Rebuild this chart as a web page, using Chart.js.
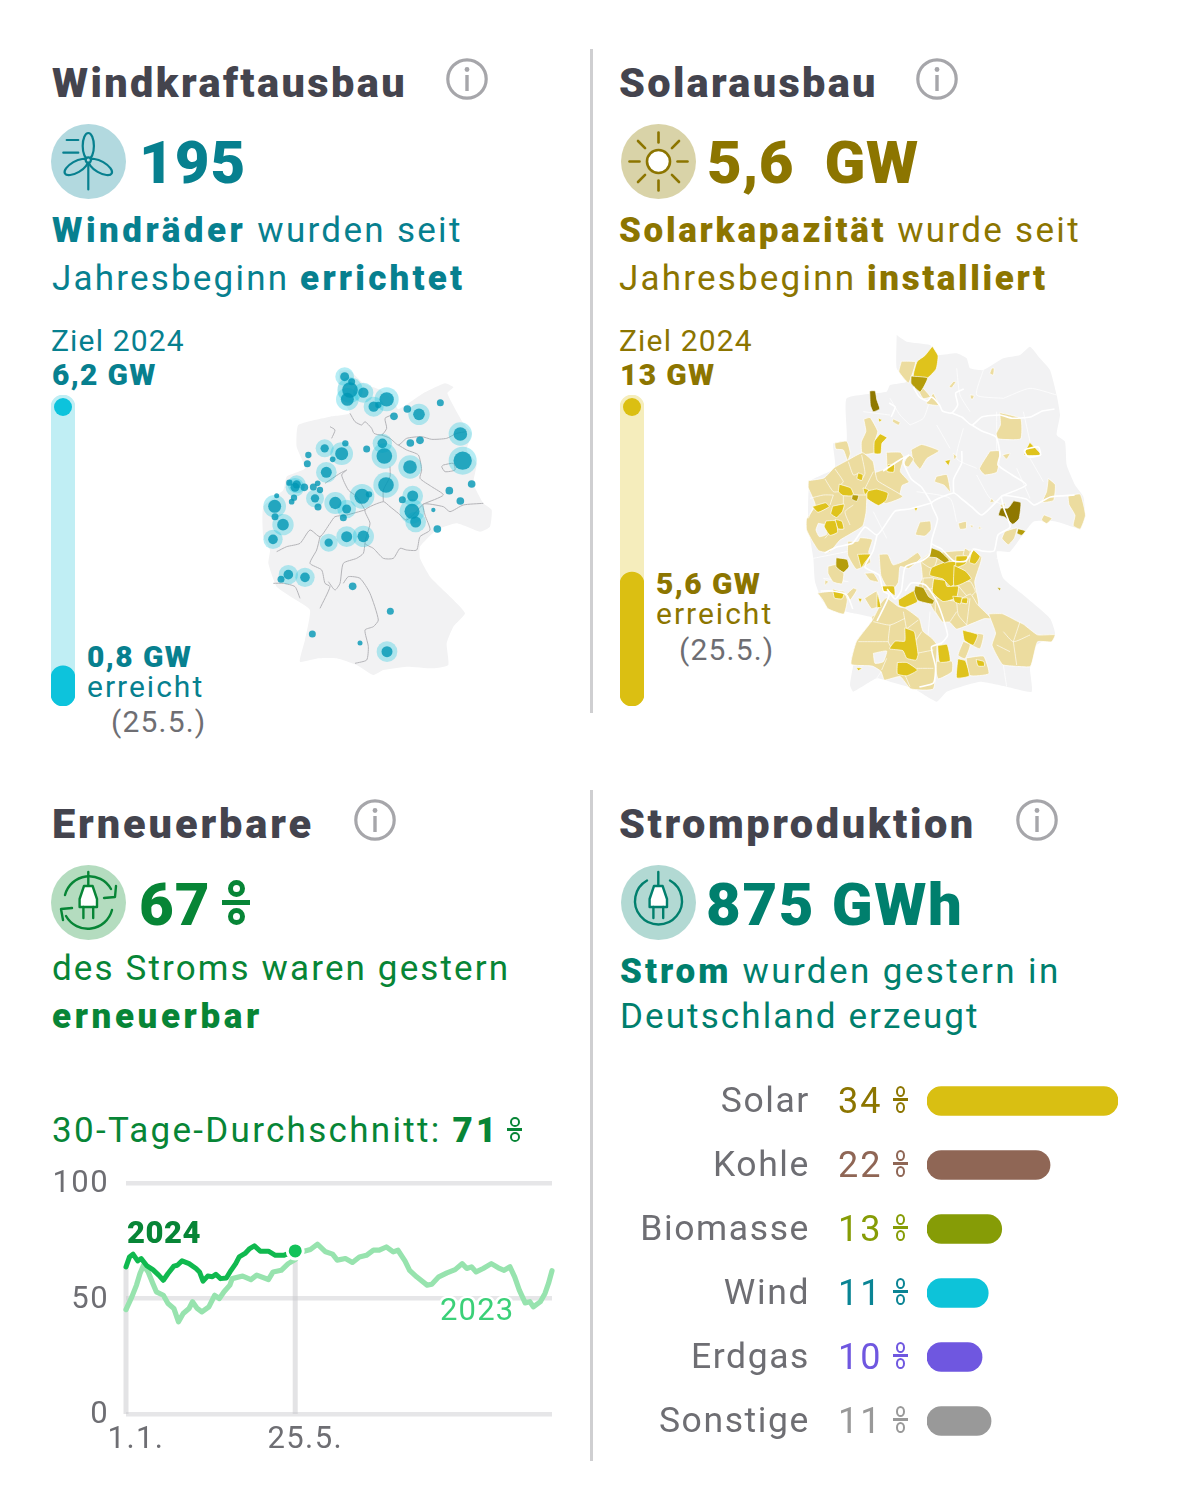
<!DOCTYPE html>
<html lang="de"><head><meta charset="utf-8"><title>Klimadashboard</title>
<script src="https://cdn.jsdelivr.net/npm/chart.js@4"></script>
<style>
html,body{margin:0;padding:0;background:#fff;width:1179px;height:1500px;overflow:hidden;font-family:Roboto,sans-serif}
.t{position:absolute;white-space:pre;line-height:1;z-index:5}
.t b{font-weight:900}
.s b{letter-spacing:var(--bs,3.2px)}
canvas{position:absolute;display:block}
.rule{position:absolute;width:3px;background:#cfcfd1}
.pct{position:absolute;color:transparent;overflow:hidden;font-size:8px;z-index:5}
.pct i{position:absolute;display:block;box-sizing:border-box}
svg{position:absolute}
</style></head><body>
<script>
/* ---------- values ---------- */
const windProgress = {target: 6.2, done: 0.8};
const solarProgress = {target: 13, done: 5.6};

const mixLabels  = ['Solar','Kohle','Biomasse','Wind','Erdgas','Sonstige'];
const mixValues  = [34, 21.9, 13.3, 10.9, 9.8, 11.4];
const mixShown   = ['34','22','13','11','10','11'];
const mixColors  = ['#d9bf12','#8f6655','#869c06','#0dc3d9','#6f57e0','#999999'];
const mixText    = ['#8c7500','#8f6655','#869c06','#0a8494','#6f57e0','#999999'];

const days2023 = [0,5,9,12,15,19,23,26,32,36,41,45,49,54,57,61,65,71,76,80,84,89,91,100,107,112,122,126,133,139,145,151,158,164,171,177,181,188,194,200,206,212,217,223,229,233,239,243,249,258,262,268,275,282,288,292,296,300,306,313,319,324,329,333,337,342,346,349,355,359,362,365];
const share2023 = [45.2,50.7,55.8,60.8,64.4,61.5,56.5,52.9,51.4,47.8,45.7,39.9,43.5,45.7,48.6,45.7,44.2,46.4,51.4,50,52.9,55.8,58.6,59.7,58.2,60.1,58.2,61.5,62.2,65.1,66.9,70.2,71.2,73.5,70.2,69.2,66.6,67.3,65.6,68,68.7,70.9,70.9,72.3,70.2,70.9,66.3,62.2,59.4,55.8,56.2,59.4,61.1,62.5,65.1,63,63.7,61.5,63,65.1,63.3,62.2,63.7,59.4,53.6,48.1,48.6,46.4,48.6,52.2,56.5,62];
const days2024 = [0,3,6,10,13,18,23,28,32,36,41,44,48,54,60,63,66,70,74,77,81,86,90,94,97,102,106,110,115,122,128,135,145];
const share2024 = [63.7,68,69.2,66.3,67.3,64.1,62.5,60.1,57.9,60.8,64,64.4,66.3,65.1,63,61.5,57.5,59.7,59.4,60.5,58.6,58.9,62.2,65.1,68,69.5,71.6,72.8,70.5,70.5,68.7,68.7,70.6];
const lineTickDays = [0,145];
const lineTickLabels = ['1.1.','25.5.'];
const shareTicks = [0,50,100];

/* wind map: grid units, [x,y] flat lists */
const windSiteX = [284,300,292,340,305,410,371,385,432,472,507,571,631,638,665,598,631,550,562,480,510,481,397,403,350,408,488,457,486,497,224,275,286,248,175,172,229,118,140,135,163,190,203,210,195,125,132,204,80,74,75,99,69,256,290,280,336,357,290,340,236,115,165,93,308,421,187,330,411];
const windSiteY = [80,120,148,128,95,148,170,165,199,177,193,158,252,332,402,422,453,480,537,351,271,279,280,318,297,405,438,449,484,516,295,311,280,328,315,341,367,398,403,412,412,411,400,420,445,455,443,471,437,469,500,524,568,459,477,503,439,433,560,559,578,674,682,688,709,784,852,879,905];
const windSiteSize = [12,22,18,14,9,20,14,8,10,10,16,9,19,26,10,10,10,5,10,19,10,10,13,22,9,22,15,9,21,15,11,18,8,7,8,9,15,8,11,12,10,9,7,8,11,7,8,9,6,18,9,16,13,17,12,9,21,8,15,16,11,13,13,9,10,9,9,6,15];
const windLand = [268,62,300,62,340,100,390,120,430,150,445,178,520,130,585,100,610,112,592,130,640,220,665,250,650,300,680,340,670,400,700,460,725,480,720,530,690,545,620,520,560,540,510,590,510,625,540,680,590,730,645,790,610,830,590,880,595,945,550,955,470,950,400,960,370,975,320,945,260,925,205,925,150,935,165,870,180,780,130,745,80,710,55,640,60,600,40,560,40,470,100,420,110,380,165,355,140,290,145,225,240,200,300,190,265,130];
const stateBorders = [
 [300,190,315,215,335,225,345,215,365,235,372,250,395,255,410,235,405,205,425,195],
 [395,255,420,265,445,285,470,265,515,260,545,268,590,265,620,250,650,245],
 [445,285,470,300,505,315,515,360,510,385,545,410,580,435,520,462],
 [700,460,640,465,600,485,580,470,520,462,525,495,540,540,510,560,500,600,470,600,450,595,430,625,400,625,370,595,345,580,360,520,345,480,400,455,420,470,445,490,470,510,520,462],
 [400,455,400,420,420,380,420,350],
 [245,265,255,240,240,230],[290,360,275,375,295,420,320,440,345,480],[225,400,270,370,290,360],
 [345,480,290,495,255,500,240,520,210,560,180,540,150,580,110,590,80,605],
 [210,560,200,600,180,640,215,660,225,700,240,710,210,775],
 [345,580,340,610,320,625,280,640,270,700,255,720,235,695],
 [280,700,295,680,330,685,360,730,385,810,370,830,345,840,355,890,350,930,315,940],
 [70,700,100,700,135,710,150,745],
 [580,345,610,340,615,360,585,365,575,350,580,345]
];

/* solar map: grid units */
const solarLand = [320,30,350,50,420,60,440,90,500,85,530,100,540,130,580,135,640,100,690,90,720,65,750,100,780,135,800,210,810,270,800,330,825,350,830,420,855,480,880,515,885,570,870,610,800,590,730,590,660,680,620,680,640,760,700,810,780,880,795,930,740,960,720,1030,725,1100,650,1085,570,1070,470,1100,440,1130,370,1090,300,1070,260,1060,190,1100,180,1080,190,1020,205,950,250,880,170,860,100,830,75,770,70,700,55,600,60,470,135,430,130,355,170,350,170,220,290,200,300,180,350,170,320,130];
const solarTier1 = [
 [395,710,420,690,540,680,570,700,550,770,560,840,440,860,420,830,380,800,400,760],
 [335,110,375,112,365,150,355,172,328,140],[395,185,420,215,400,220,388,200],[430,205,445,240,410,235],[605,130,612,130,610,150,600,145],[490,170,498,170,485,188,478,185],[541,210,552,212,548,222,542,220],[310,282,330,292,325,300,308,290],
 [630,265,690,282,690,340,625,340,620,325,632,300],[222,285,240,280,262,320,255,345,255,380,218,385,215,350,228,320],[135,355,170,350,180,385,172,405,160,375,138,372],[365,375,395,360,445,378,410,400,390,430,370,405],[340,420,355,390,370,402,355,425],
 [290,385,330,385,340,400,330,440,355,470,335,480,325,515,290,500,255,470,255,445,290,430],[600,380,628,380,620,440,585,448,570,430],[638,390,660,385,650,402],[490,385,500,395,492,403],[440,455,470,450,480,500,462,480,435,470],[775,462,795,480,790,525,758,530,770,500],[835,515,870,510,885,570,870,610,850,600,855,570,838,540],[762,570,785,580,770,595,755,585],[630,540,645,535,640,555],[605,520,612,530,600,532],[645,620,680,610,672,640,655,658,637,640],[505,595,528,590,528,610,510,612],[540,600,550,602,545,608],[568,605,575,610,565,612],[390,592,420,590,422,615,405,632,378,628],
 [60,470,105,462,135,432,175,410,215,390,245,415,250,440,258,470,330,515,280,535,230,510,225,560,215,600,150,640,120,675,90,670,70,640,55,610,55,580,80,540,60,490],
 [175,650,205,650,210,640,245,645,235,680,240,710,200,730,175,690],[115,725,140,720,160,745,155,775,130,770,115,745],[105,765,115,770,105,780],[85,805,125,800,160,800,170,825,160,865,115,850,100,825],[168,810,190,790,200,795,180,825],[225,745,250,745,265,770,240,765],[225,820,260,800,270,840,245,850],[245,875,258,870,250,892],
 [270,690,295,690,310,720,350,705,380,685,390,700,355,730,330,725,325,770,310,790,290,780,275,750],[415,690,440,700,430,730,415,725,395,710],[525,670,540,680,535,695,520,690],[400,760,430,760,425,790,400,790],[500,775,540,770,555,800,535,815],
 [440,820,500,830,540,810,560,840,600,880,580,880,530,900,500,910,480,890,460,890,440,860],[600,870,640,870,680,890,700,900,740,930,790,930,780,950,740,950,720,1020,680,1020,640,1015,610,960,620,925],[555,925,580,930,570,970,548,960],[520,950,540,960,525,1000,505,990],[530,1000,580,995,595,1045,540,1050],[435,1010,485,1010,485,1040,445,1060],
 [275,840,290,825,325,850,345,855,385,885,395,920,420,940,435,960,425,1085,360,1085,330,1050,285,1060,275,1035,250,1020,190,1015,205,950,250,890]
];
const solarHoles = [[85,595,105,600,110,628,88,635,78,615],[250,985,290,978,280,1010,255,1015]];
const solarTier2 = [
 [425,70,440,95,435,130,410,155,375,150,385,110,405,95],[265,280,275,285,268,290],[720,355,750,388,705,388],[270,330,288,340,275,355,272,382,255,382,255,350],[295,420,312,420,310,440,292,438],[465,408,480,405,475,420],[372,548,382,548,378,558],
 [150,480,180,490,188,510,160,510,148,500],[205,445,218,450,215,465,202,460],[70,545,105,535,115,545,85,560],[235,500,260,495,290,505,285,525,265,538,235,520],[220,490,235,495,225,508],[130,545,160,540,155,560,140,575,125,565],[110,590,135,590,140,620,120,628,105,605],[137,585,155,590,160,610,145,610],
 [205,690,240,690,225,710,215,725],[130,795,160,805,155,820,135,818],[262,805,272,845,262,845],[275,785,310,785,312,810,295,798,280,800],[205,820,215,822,210,832],
 [465,715,495,715,505,760,480,780,460,760,425,750,430,730],[500,695,530,695,525,715,500,725],[495,725,525,740,540,760,495,780],[548,675,568,695,555,715,540,710],[435,765,465,770,470,785,500,785,495,815,460,825,432,800],[490,815,515,818,510,835,495,830],[518,820,532,820,530,835,515,832],[328,825,372,800,378,830,345,845,330,840],
 [520,918,560,930,548,958,525,945],[505,1005,525,1010,535,1050,502,1055],[560,1005,580,1010,582,1022,565,1022],[445,965,470,962,478,1005,450,1008],[345,915,370,925,375,950,380,985,375,1000,350,995,340,975,305,970,320,950,345,950],[325,1015,350,1015,378,1035,350,1050,325,1045],[200,1028,215,1030,205,1036]
];
const solarTier3 = [[365,155,410,160,390,198,365,175],[188,510,205,512,200,528,186,522],[685,612,705,618,695,630,682,625],[425,670,450,680,475,705,462,712,440,698,420,695],[140,700,170,705,175,725,160,740,140,725],[378,785,400,790,415,815,430,825,425,835,385,825,375,800],[622,788,632,790,628,796]];
const solarTier4 = [[240,200,255,200,260,225,268,250,250,258,242,240],[670,530,690,535,685,580,668,595,645,575,628,570,635,550,655,550]];
const districtLines = [
 [135,432,160,470,150,480],[175,410,190,450,205,445],[215,390,225,445,215,465],[105,462,130,500,148,500],[60,520,100,510,130,510],[250,440,225,490],[188,510,230,510],[130,510,120,540],[160,510,160,540],[70,545,55,580],[105,640,130,610],[180,600,165,560,190,540],
 [250,890,300,900,345,880],[300,900,295,950,305,970],[205,950,260,950,295,950],[340,860,350,915],[385,885,345,915],[395,920,375,950],[380,985,430,975],[380,1030,430,1030],[275,1035,290,1000],[345,1050,360,1085],
 [640,920,670,950,720,930],[670,950,680,1020],[690,890,670,950],[620,960,660,980],[500,860,480,890],[540,820,530,900],[500,830,505,870,530,900],
 [420,225,400,280,360,300],[300,220,330,270,360,300],[220,260,300,270],[500,130,510,210,540,260],[580,135,560,210,640,220],[640,220,720,190,800,210],[700,260,720,350],[620,260,620,400],[520,310,500,400,560,430],[440,300,480,370],[380,500,480,520,500,590],[560,450,600,520,640,540],[720,400,760,470],[680,430,720,520],[620,700,700,690],[660,730,720,740,780,880],[250,560,290,640],[70,700,170,680],[100,760,175,770],[420,860,410,980],[640,1020,650,1085],[260,1060,300,1000]
];

/* ---------- colours ---------- */
const WIND='#07808f', SOLAR='#8c7500', REN='#078536', STROM='#007f6d', HEAD='#44444e', GREY='#6e6e73';

/* ---------- text ---------- */
function text(x, base, html, size, color, extra, cls){
  const d=document.createElement('div'); d.className='t '+(cls||''); d.innerHTML=html;
  d.style.cssText=`left:${x}px;top:${base-size*0.8415}px;font-size:${size}px;color:${color};${extra||''}`;
  document.body.appendChild(d);
}
function pct(x,y,w,h,sw,rw,color){
  const d=document.createElement('div'); d.className='pct'; d.textContent='%';
  d.style.cssText=`left:${x}px;top:${y}px;width:${w}px;height:${h}px`;
  const rh=(h-sw-2*Math.max(1.5,sw*0.6))/2;
  const mk=(css)=>{const i=document.createElement('i'); i.style.cssText=css; d.appendChild(i);};
  mk(`left:${(w-rw)/2}px;top:0;width:${rw}px;height:${rh}px;border:${sw}px solid ${color};border-radius:50%`);
  mk(`left:0;top:${(h-sw)/2}px;width:${w}px;height:${sw}px;background:${color}`);
  mk(`left:${(w-rw)/2}px;bottom:0;width:${rw}px;height:${rh}px;border:${sw}px solid ${color};border-radius:50%`);
  document.body.appendChild(d);
}
const H='font-weight:900;';
text(52,97,'Windkraftausbau',41.5,HEAD,H+'letter-spacing:2.4px;');
text(619,97,'Solarausbau',41.5,HEAD,H+'letter-spacing:2.3px;');
text(52,838,'Erneuerbare',41.5,HEAD,H+'letter-spacing:2.9px;');
text(619,838,'Stromproduktion',41.5,HEAD,H+'letter-spacing:2.6px;');
const N='font-weight:900;letter-spacing:1px;';
text(139,183,'195',60,WIND,N);
text(707,183,'5,6  GW',60,SOLAR,'font-weight:900;letter-spacing:0.4px;');
text(139,925,'67',60,REN,N);
text(706,925,'875 GWh',60,STROM,'font-weight:900;letter-spacing:1.6px;');
pct(222,880,28,45,5,17,REN);

const S='letter-spacing:2.3px;';
text(52,242,'<b>Windräder</b> wurden seit',35,WIND,S+'--bs:3.5px;','s');
text(52,290,'Jahresbeginn <b>errichtet</b>',35,WIND,'letter-spacing:2.2px;--bs:3.2px;','s');
text(619,242,'<b>Solarkapazität</b> wurde seit',35,SOLAR,S+'--bs:2.7px;','s');
text(619,290,'Jahresbeginn <b>installiert</b>',35,SOLAR,'letter-spacing:2.2px;--bs:2.6px;','s');
text(52,980,'des Stroms waren gestern',35,REN,'letter-spacing:2.13px;','s');
text(52,1028,'<b>erneuerbar</b>',35,REN,'--bs:3.6px;','s');
text(620,983,'<b>Strom</b> wurden gestern in',35,STROM,'letter-spacing:2.4px;--bs:3px;','s');
text(620,1028,'Deutschland erzeugt',35,STROM,'letter-spacing:2.1px;','s');

text(51,351,'Ziel 2024',30,WIND,'letter-spacing:1.15px;');
text(52,385,'<b>6,2 GW</b>',30,WIND,'letter-spacing:1.3px;');
text(87,667,'<b>0,8 GW</b>',30,WIND,'letter-spacing:1.4px;');
text(87,697,'erreicht',30,WIND,'letter-spacing:2px;');
text(111,732,'(25.5.)',30,GREY,'letter-spacing:1.2px;');
text(619,351,'Ziel 2024',30,SOLAR,'letter-spacing:1.15px;');
text(620,385,'<b>13 GW</b>',30,SOLAR,'letter-spacing:1.3px;');
text(656,594,'<b>5,6 GW</b>',30,SOLAR,'letter-spacing:1.4px;');
text(656,624,'erreicht',30,SOLAR,'letter-spacing:2px;');
text(679,660,'(25.5.)',30,GREY,'letter-spacing:1.2px;');

text(52,1142,'30-Tage-Durchschnitt: <b>71</b>',35,REN,S+'--bs:3.2px;','s');
pct(507,1117,15,25,2.5,10,REN);
text(127,1243,'<b>2024</b>',31,REN,'letter-spacing:0.5px;');
text(440,1320,'2023',31,'#3bd078','letter-spacing:1.2px;-webkit-text-stroke:5px #fff;paint-order:stroke fill;');

mixShown.forEach((v,i)=>{
  const b=1113+64*i;
  text(838,b,v,36,mixText[i],'letter-spacing:2px;');
  pct(893,b-27,15,27,2.5,9,mixText[i]);
});

/* ---------- rules and icons ---------- */
[[590,49,664],[590,790,671]].forEach(([x,y,h])=>{const r=document.createElement('div');r.className='rule';r.style.cssText=`left:${x}px;top:${y}px;height:${h}px`;document.body.appendChild(r);});

function svg(x,y,size,inner){
  document.body.insertAdjacentHTML('beforeend',`<svg xmlns="http://www.w3.org/2000/svg" style="left:${x}px;top:${y}px" width="${size}" height="${size}" viewBox="0 0 ${size} ${size}">${inner}</svg>`);
}
[[446,58],[916,58],[354,799],[1016,799]].forEach(([x,y])=>svg(x,y,42,`<circle cx="21" cy="21" r="19.2" fill="#fff" stroke="#a6a6aa" stroke-width="3.2"/><rect x="19.3" y="17" width="3.4" height="16" fill="#a6a6aa"/><circle cx="21" cy="11.5" r="2.4" fill="#a6a6aa"/>`));

const blade=r=>`<ellipse cx="37.3" cy="22" rx="5.6" ry="13" transform="rotate(${r} 37.3 36)"/>`;
svg(51,124,75,`<circle cx="37.5" cy="37.5" r="37.5" fill="#b2d9df"/><g fill="none" stroke="${WIND}" stroke-width="2.2" stroke-linecap="round">${blade(0)}${blade(120)}${blade(240)}<circle cx="37.3" cy="36" r="2.6" fill="#b2d9df"/><path d="M37.3 39V65.5M15.7 16H27.3M12.3 28.7H27.3"/></g>`);
let rays='';for(let a=0;a<360;a+=45){const c=Math.cos(a*Math.PI/180),s=Math.sin(a*Math.PI/180);rays+=`<path d="M${37.5+19*c} ${37.5+19*s}L${37.5+29*c} ${37.5+29*s}"/>`;}
svg(621,124,75,`<circle cx="37.5" cy="37.5" r="37.5" fill="#d9d3a8"/><g fill="none" stroke="${SOLAR}" stroke-width="2.6" stroke-linecap="round"><circle cx="37.5" cy="37.5" r="11.5" fill="#fff"/>${rays}</g>`);
const plug=(c)=>`<path d="M37.3 7V20M33 21H41.6L46 34V42H28.6V34Z" fill="#fff" stroke="${c}" stroke-width="2.4" stroke-linejoin="round" stroke-linecap="round"/><path d="M32.4 42V53M42.2 42V53" fill="none" stroke="${c}" stroke-width="2.4" stroke-linecap="round"/>`;
svg(51,865,75,`<circle cx="37.5" cy="37.5" r="37.5" fill="#b4dcbf"/><g fill="none" stroke="${REN}" stroke-width="2.4" stroke-linecap="round" stroke-linejoin="round"><path d="M14 30A25 25 0 0 1 60 24M53 33L64 32L65 21M61 45A25 25 0 0 1 15 51M21 43L10 44L12 55"/></g>${plug(REN)}`);
svg(621,865,75,`<circle cx="37.5" cy="37.5" r="37.5" fill="#b2d9d3"/><path d="M26 15.5A23.5 23.5 0 1 0 49 15.5" fill="none" stroke="${STROM}" stroke-width="2.4" stroke-linecap="round"/>${plug(STROM)}`);

/* ---------- Chart.js ---------- */
function canvas(x,y,w,h){const c=document.createElement('canvas');c.width=w;c.height=h;c.style.cssText=`left:${x}px;top:${y}px;width:${w}px;height:${h}px`;document.body.appendChild(c);return c;}
Chart.defaults.animation=false;
Chart.defaults.responsive=false;
Chart.defaults.font.family='Roboto, sans-serif';
Chart.defaults.plugins.legend.display=false;
Chart.defaults.plugins.tooltip.enabled=false;
Chart.defaults.layout.autoPadding=false;

const polyFill={id:'polyFill',beforeDatasetDraw(chart,args){
  const ds=chart.data.datasets[args.index]; if(!ds.polygon)return;
  const line=chart.getDatasetMeta(args.index).dataset; if(!line)return;
  const ctx=chart.ctx; ctx.save(); ctx.fillStyle=ds.polygon; ctx.beginPath(); line.path(ctx); ctx.closePath(); ctx.fill(); ctx.restore();
}};
const spaced=px=>({id:'spaced',beforeDraw(chart){chart.ctx.letterSpacing=px;}});
const pts=a=>{const o=[];for(let i=0;i<a.length;i+=2)o.push({x:a[i],y:a[i+1]});return o;};
const closed=a=>{const p=pts(a);p.push(p[0]);return p;};
const widen=(a,f)=>{let cx=0,cy=0;for(let i=0;i<a.length;i+=2){cx+=a[i];cy+=a[i+1];}cx/=a.length/2;cy/=a.length/2;return a.map((v,i)=>i%2?cy+(v-cy)*f:cx+(v-cx)*f);};
const polyDs=(a,fillColor,stroke,w)=>({data:closed(a),polygon:fillColor,showLine:true,borderColor:stroke,borderWidth:w,pointRadius:0,tension:0.15,clip:false});
const lineDs=(a,stroke,w)=>({data:pts(a),showLine:true,borderColor:stroke,borderWidth:w,pointRadius:0,tension:0.2,fill:false,clip:false});
const mapScales=(w,h)=>({x:{type:'linear',display:false,min:0,max:w},y:{type:'linear',display:false,min:0,max:h,reverse:true}});

/* progress bars */
function progress(x,d,track,fill){
  new Chart(canvas(x,395,24,311),{type:'bar',data:{labels:['2024'],datasets:[
    {type:'scatter',data:[{x:0,y:d.target*(1-12/311)}],pointRadius:9,pointBackgroundColor:fill,pointBorderWidth:0,order:0,xAxisID:'p',clip:false},
    {data:[d.done],backgroundColor:fill,borderRadius:12,borderSkipped:false,barThickness:24,grouped:false,order:1},
    {data:[d.target],backgroundColor:track,borderRadius:12,borderSkipped:false,barThickness:24,grouped:false,order:2}
  ]},options:{layout:{padding:0},
    scales:{x:{display:false},p:{type:'linear',display:false,min:-1,max:1},y:{display:false,min:0,max:d.target}}}});
}
progress(51,windProgress,'#c0eef4','#0dc3dc');
progress(620,solarProgress,'#f5edbc','#dbbf12');

/* wind map (first dataset is painted last, so lists run bottom layer first, then reversed) */
const siteData=windSiteX.map((x,i)=>({x,y:windSiteY[i]}));
new Chart(canvas(250,350,260,340),{type:'scatter',plugins:[polyFill],data:{datasets:[
  polyDs(windLand,'#f2f2f3','rgba(0,0,0,0)',0),
  ...stateBorders.map(b=>lineDs(b,'#b4b4b8',1)),
  {data:siteData,pointBorderWidth:0,pointBackgroundColor:'rgba(13,196,222,0.3)',pointRadius:c=>windSiteSize[c.dataIndex]>=11?(windSiteSize[c.dataIndex]+16)/3:0,clip:false},
  {data:siteData,pointBorderWidth:0,pointBackgroundColor:'rgba(0,150,180,0.8)',pointRadius:c=>(windSiteSize[c.dataIndex]+1.5)/3,clip:false}
].reverse()},options:{layout:{padding:0},scales:mapScales(780,1020)}});

/* solar map */
const white='#ffffff';
new Chart(canvas(790,325,310,390),{type:'scatter',plugins:[polyFill],data:{datasets:[
  polyDs(solarLand,'#f2f2f3','rgba(0,0,0,0)',0),
  ...districtLines.slice(29).map(a=>lineDs(a,'rgba(255,255,255,0.8)',0.9)),
  ...solarTier1.map(a=>polyDs(widen(a,1.05),'#ecdc9f',white,0.7)),
  ...solarHoles.map(a=>polyDs(a,'#f2f2f3',white,0.7)),
  ...districtLines.slice(0,29).map(a=>lineDs(a,'rgba(255,255,255,0.7)',0.9)),
  ...solarTier2.map(a=>polyDs(widen(a,1.14),'#dfc31c',white,0.7)),
  ...solarTier3.map(a=>polyDs(widen(a,1.1),'#b59d0b',white,0.7)),
  ...solarTier4.map(a=>polyDs(widen(a,1.08),'#8f7800',white,0.7)),
  ...stateBorders.map(b=>lineDs(b.map((v,i)=>i%2?1.2*v-42:1.21*v+7),white,1.6))
].reverse()},options:{layout:{padding:0},scales:mapScales(930,1170)}});

/* renewable share line chart */
const xy=(xs,ys)=>xs.map((x,i)=>({x,y:ys[i]}));
const vLineColor='rgba(200,200,204,0.5)';
new Chart(canvas(40,1165,530,300),{type:'scatter',plugins:[spaced('1.4px')],data:{datasets:[
  {data:[{x:0,y:0},{x:0,y:share2024[0]}],showLine:true,borderColor:vLineColor,borderWidth:5,pointRadius:0,clip:false},
  {data:[{x:145,y:0},{x:145,y:share2024[share2024.length-1]}],showLine:true,borderColor:vLineColor,borderWidth:5,pointRadius:0,clip:false},
  {data:xy(days2023,share2023),showLine:true,borderColor:'#97e3ae',borderWidth:5.2,pointRadius:0,clip:false,borderJoinStyle:'round',borderCapStyle:'round'},
  {data:xy(days2024,share2024),showLine:true,borderColor:'#10b94f',borderWidth:5,pointRadius:0,clip:false,borderJoinStyle:'round',borderCapStyle:'round'},
  {data:[{x:days2024[days2024.length-1],y:share2024[share2024.length-1]}],pointRadius:8,pointBackgroundColor:'#13c25a',pointBorderColor:'#fff',pointBorderWidth:3,clip:false}
].reverse()},options:{layout:{padding:{top:18,right:18}},scales:{
  x:{type:'linear',min:0,max:365,afterBuildTicks:a=>{a.ticks=lineTickDays.map(v=>({value:v}));},afterFit:a=>{a.height=51;a.paddingLeft=0;a.paddingRight=0;},
     border:{display:false},grid:{display:false},
     ticks:{autoSkip:false,maxRotation:0,padding:0,labelOffset:10,color:GREY,font:{size:31},callback:v=>lineTickLabels[lineTickDays.indexOf(v)]}},
  y:{type:'linear',min:0,max:100,afterBuildTicks:a=>{a.ticks=shareTicks.map(v=>({value:v}));},afterFit:a=>{a.width=86;a.paddingTop=0;a.paddingBottom=0;},
     border:{display:false},grid:{color:'#e6e6e8',lineWidth:4.5,drawTicks:false},
     ticks:{padding:17,labelOffset:1.5,color:GREY,font:{size:31}}}
}}});

/* electricity mix bars */
new Chart(canvas(620,1069,510,384),{type:'bar',plugins:[spaced('1.6px')],data:{labels:mixLabels,datasets:[
  {data:mixValues,backgroundColor:mixColors,borderRadius:14.5,borderSkipped:false,barThickness:29}
]},options:{indexAxis:'y',layout:{padding:{right:12}},scales:{
  x:{display:false,min:0,max:34},
  y:{afterFit:a=>{a.width=307;a.paddingTop=0;a.paddingBottom=0;},border:{display:false},grid:{display:false,drawTicks:true,tickLength:117,tickColor:'rgba(0,0,0,0)'},
     ticks:{padding:0,labelOffset:2,crossAlign:'near',color:GREY,font:{size:35.5}}}
}}});
</script>
</body></html>
